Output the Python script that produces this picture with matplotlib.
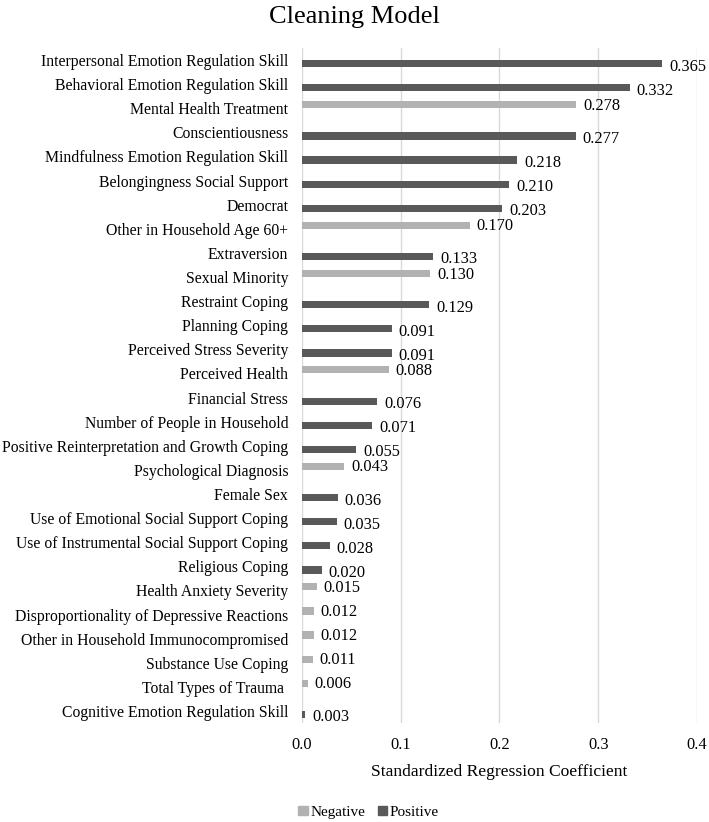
import numpy as np
import matplotlib.pyplot as plt
from matplotlib.patches import Patch

plt.rcParams["font.family"] = ["Liberation Serif", "DejaVu Serif"]

categories = [
    "Interpersonal Emotion Regulation Skill",
    "Behavioral Emotion Regulation Skill",
    "Mental Health Treatment",
    "Conscientiousness",
    "Mindfulness Emotion Regulation Skill",
    "Belongingness Social Support",
    "Democrat",
    "Other in Household Age 60+",
    "Extraversion",
    "Sexual Minority",
    "Restraint Coping",
    "Planning Coping",
    "Perceived Stress Severity",
    "Perceived Health",
    "Financial Stress",
    "Number of People in Household",
    "Positive Reinterpretation and Growth Coping",
    "Psychological Diagnosis",
    "Female Sex",
    "Use of Emotional Social Support Coping",
    "Use of Instrumental Social Support Coping",
    "Religious Coping",
    "Health Anxiety Severity",
    "Disproportionality of Depressive Reactions",
    "Other in Household Immunocompromised",
    "Substance Use Coping",
    "Total Types of Trauma ",
    "Cognitive Emotion Regulation Skill",
]
negative = [0, 0, 0.278, 0, 0, 0, 0, 0.170, 0, 0.130, 0, 0, 0, 0.088, 0, 0, 0,
            0.043, 0, 0, 0, 0, 0.015, 0.012, 0.012, 0.011, 0.006, 0]
positive = [0.365, 0.332, 0, 0.277, 0.218, 0.210, 0.203, 0, 0.133, 0, 0.129,
            0.091, 0.091, 0, 0.076, 0.071, 0.055, 0, 0.036, 0.035, 0.028, 0.020,
            0, 0, 0, 0, 0, 0.003]
xticks = [0.0, 0.1, 0.2, 0.3, 0.4]

neg_color = "#b2b2b2"
pos_color = "#595959"
fs = 11.3

fig = plt.figure(figsize=(7.09, 8.22), dpi=100)
ax = fig.add_axes([0.426, 0.1204, 0.557, 0.8212])

y = np.arange(len(categories))
h = 0.3
ax.barh(y - h / 2, negative, height=h, color=neg_color, label="Negative")
ax.barh(y + h / 2, positive, height=h, color=pos_color, label="Positive")

for yi, v in zip(y - h / 2, negative):
    if v:
        ax.text(v + 0.007, yi + 0.05, f"{v:.3f}", va="center", ha="left", fontsize=11.8)
for yi, v in zip(y + h / 2, positive):
    if v:
        ax.text(v + 0.007, yi + 0.12, f"{v:.3f}", va="center", ha="left", fontsize=11.8)

ax.set_ylim(len(categories) - 0.5, -0.5)
ax.set_xlim(0, 0.4)
ax.set_yticks(y)
ax.set_yticklabels(categories, fontsize=fs)
ax.set_xticks(xticks)
ax.set_xticklabels([f"{t:.1f}" for t in xticks], fontsize=11.8)
ax.tick_params(axis="y", length=0, pad=10)
ax.tick_params(axis="x", length=0, pad=10)
ax.grid(axis="x", color="#d9d9d9", linewidth=1)
ax.set_axisbelow(True)
for s in ax.spines.values():
    s.set_visible(False)

ax.set_xlabel("Standardized Regression Coefficient", fontsize=12.6, labelpad=8)
fig.suptitle("Cleaning Model", fontsize=19, y=0.993)

handles = [Patch(color=neg_color, label="Negative"), Patch(color=pos_color, label="Positive")]
fig.legend(handles=handles, loc="center", bbox_to_anchor=(0.52, 0.012), ncol=2,
           frameon=False, fontsize=11, handlelength=0.6, handleheight=0.6,
           handletextpad=0.2, columnspacing=0.8)

fig.savefig("out.png", dpi=100)
